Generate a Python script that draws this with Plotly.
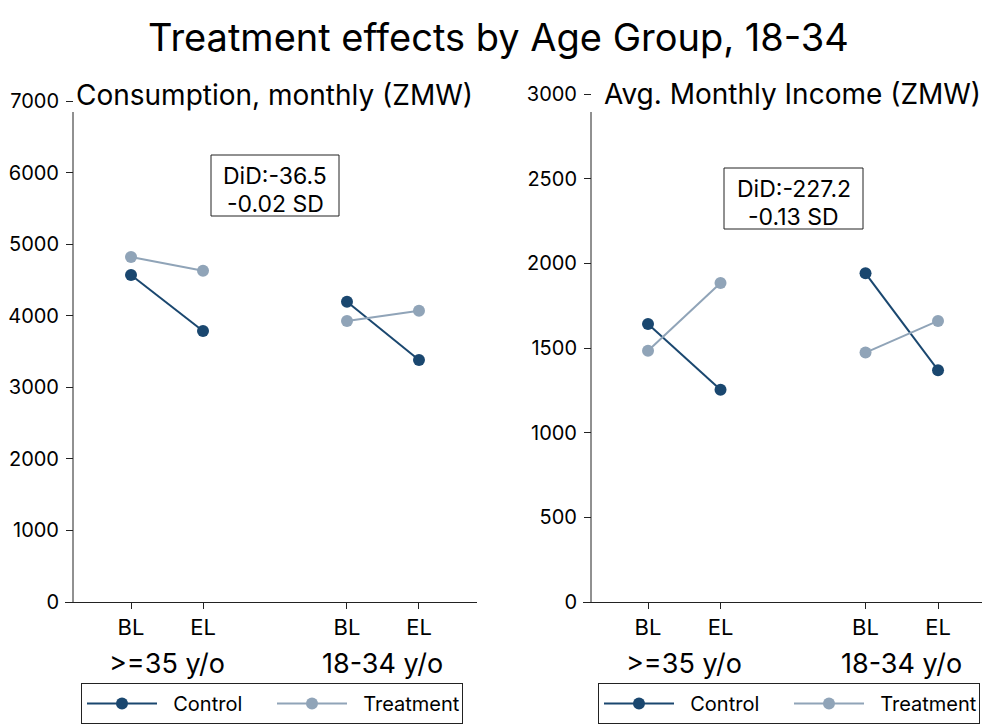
import plotly.graph_objects as go

# The page body adds an 8 px margin, so the figure is drawn 8 px smaller
# and every target pixel position is shifted by that offset.
OFF = 8
W, H = 990 - OFF, 725 - OFF
FONT = "Inter"

# ---- data ----
x_pos = [1, 2, None, 4, 5]
tick_vals = [1, 2, 4, 5]
tick_text = ["BL", "EL", "BL", "EL"]
group_labels = [">=35 y/o", "18-34 y/o"]
group_pos = [1.5, 4.5]

series_names = ["Control", "Treatment"]
cons_control = [4570, 3787, None, 4196, 3381]
cons_treatment = [4820, 4629, None, 3926, 4070]
inc_control = [1642, 1254, None, 1941, 1369]
inc_treatment = [1484, 1884, None, 1473, 1660]

panel_titles = ["Consumption, monthly (ZMW)", "Avg. Monthly Income (ZMW)"]
did_lines = [["DiD:-36.5", "-0.02 SD"], ["DiD:-227.2", "-0.13 SD"]]
main_title = "Treatment effects by Age Group, 18-34"

C_CTRL = "#1a476f"
C_TREAT = "#90a4b8"

def px(x):
    return (x - OFF) / W

def py(y):
    return (H - (y - OFF)) / H

fig = go.Figure()

def add_series(y, name, color, xa, ya, legend):
    fig.add_trace(go.Scatter(
        x=x_pos, y=y, name="\u00a0\u00a0" + name, mode="lines+markers",
        line=dict(color=color, width=2),
        marker=dict(color=color, size=12),
        xaxis=xa, yaxis=ya, legend=legend, connectgaps=False,
    ))

add_series(cons_control, series_names[0], C_CTRL, "x", "y", "legend")
add_series(cons_treatment, series_names[1], C_TREAT, "x", "y", "legend")
add_series(inc_control, series_names[0], C_CTRL, "x2", "y2", "legend2")
add_series(inc_treatment, series_names[1], C_TREAT, "x2", "y2", "legend2")

common_x = dict(tickvals=tick_vals, ticktext=tick_text, ticks="outside", ticklen=6,
                tickcolor="#222", showline=True, linecolor="#222", linewidth=1,
                showgrid=False, zeroline=False, automargin=False,
                tickfont=dict(family=FONT, size=22, color="black"))
common_y = dict(ticks="outside", ticklen=7, tickcolor="#222", showline=False,
                showgrid=False, zeroline=False, automargin=False, anchor="free",
                ticklabelstandoff=3, tickfont=dict(family=FONT, size=20, color="black"))

legend_common = dict(y=py(724), xanchor="left", yanchor="bottom", orientation="h",
                     bordercolor="#222", borderwidth=1,
                     font=dict(family=FONT, size=20, color="black"),
                     itemwidth=70, entrywidth=105, bgcolor="white")

fig.update_layout(
    template="none",
    width=W, height=H, autosize=False,
    margin=dict(l=0, r=0, t=0, b=0, pad=0),
    paper_bgcolor="white", plot_bgcolor="white",
    font=dict(family=FONT, color="black"),
    xaxis=dict(domain=[px(65), px(477)], range=[0.083, 5.806], anchor="y", **common_x),
    yaxis=dict(domain=[py(602), py(101)], range=[0, 7000], tickvals=list(range(0, 7001, 1000)),
               position=px(73), **common_y),
    xaxis2=dict(domain=[px(583), px(990)], range=[0.103, 5.717], anchor="y2", **common_x),
    yaxis2=dict(domain=[py(602), py(94)], range=[0, 3000], tickvals=list(range(0, 3001, 500)),
                position=px(591), **common_y),
    legend=dict(x=px(81), **legend_common),
    legend2=dict(x=px(598), **legend_common),
)

# y axis lines (drawn slightly shorter than the tick range)
for xline in (73, 591):
    fig.add_shape(type="line", xref="paper", yref="paper",
                  x0=px(xline), x1=px(xline), y0=py(602), y1=py(112),
                  line=dict(color="#222", width=1))

# DiD boxes
for (x0, x1, y0, y1) in [(211, 339, 155, 216), (724, 863, 168, 229)]:
    fig.add_shape(type="rect", xref="paper", yref="paper",
                  x0=px(x0), x1=px(x1), y0=py(y0), y1=py(y1),
                  line=dict(color="#222", width=1), fillcolor="rgba(0,0,0,0)")

annotations = []
def ann(text, x, y, size, xref="paper"):
    annotations.append(dict(text=text, x=x, y=py(y), xref=xref, yref="paper",
                            showarrow=False, font=dict(family=FONT, size=size, color="black"),
                            xanchor="center", yanchor="middle", borderpad=0))

ann(main_title, px(498), 37, 38)
for t, cx, cy in zip(panel_titles, (274, 792), (95, 94)):
    ann(t, px(cx), cy, 28)
for lines, cx, ys in zip(did_lines, (275, 793.5), ((175.5, 204), (188.5, 217))):
    for t, cy in zip(lines, ys):
        ann(t, px(cx), cy, 23)
for xr in ("x", "x2"):
    for lab, gx in zip(group_labels, group_pos):
        ann(lab, gx, 663.5, 27, xref=xr)
fig.update_layout(annotations=annotations)

fig.write_html("out.html")
